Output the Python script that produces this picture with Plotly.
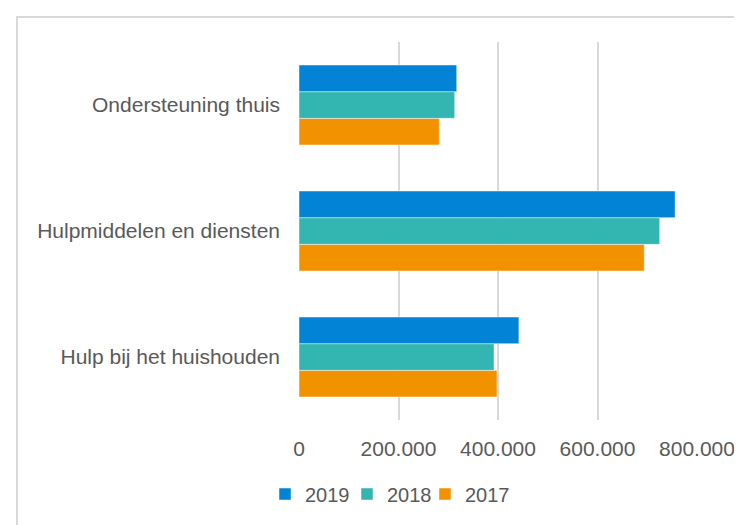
import plotly.graph_objects as go

categories = ["Hulp bij het huishouden", "Hulpmiddelen en diensten", "Ondersteuning thuis"]
series_names = ["2017", "2018", "2019"]
values_2017 = [398000, 694000, 282000]
values_2018 = [392000, 725000, 313000]
values_2019 = [442000, 756000, 317000]
colors = {"2019": "#0283D5", "2018": "#33B5B2", "2017": "#F39200"}
tick_vals = [0, 200000, 400000, 600000, 800000]
tick_text = ["0", "200.000", "400.000", "600.000", "800.000"]

data = {"2017": values_2017, "2018": values_2018, "2019": values_2019}

# page body has an 8px margin, so the figure is sized to fit the 742x525 window
OFF = 8
W, H = 742 - OFF, 525 - OFF
L, T = 299 - OFF, 42 - OFF
R = W - (697 - OFF)
B = H - (420 - OFF)
PW, PH = W - L - R, H - T - B

font_color = "#595959"
legend_ids = {"2019": "legend", "2018": "legend2", "2017": "legend3"}
legend_left_px = {"2019": 265, "2018": 347, "2017": 425}

fig = go.Figure()
for name in series_names:
    fig.add_trace(go.Bar(
        y=categories, x=data[name], name=name, orientation="h",
        legend=legend_ids[name],
        marker=dict(color=colors[name], line=dict(color="rgba(255,255,255,0.6)", width=0.8)),
    ))

legend_common = dict(orientation="h", yanchor="middle", y=(420 - 494) / PH, xanchor="left",
                     font=dict(size=20, color=font_color), bgcolor="rgba(0,0,0,0)")
layout_legends = {}
for name, lid in legend_ids.items():
    layout_legends[lid] = dict(legend_common, x=(legend_left_px[name] - 299) / PW)

fig.update_layout(
    width=W, height=H,
    margin=dict(l=L, r=R, t=T, b=B, pad=0, autoexpand=False),
    paper_bgcolor="white", plot_bgcolor="white",
    barmode="group", bargap=0.365, bargroupgap=0,
    font=dict(family="Liberation Sans, Arial, sans-serif", size=21, color=font_color),
    showlegend=True,
    xaxis=dict(range=[0, 800000], tickvals=tick_vals, ticktext=tick_text,
               showgrid=True, gridcolor="#D9D9D9", gridwidth=2, zeroline=False,
               showline=False, ticks="", ticklabelstandoff=14, fixedrange=True),
    yaxis=dict(showgrid=False, zeroline=False, showline=False, ticks="",
               ticklabelstandoff=18, fixedrange=True),
    **layout_legends,
)

x0 = (17 - OFF - L) / PW
y1 = (H - B - (17 - OFF)) / PH
fig.add_shape(type="rect", xref="paper", yref="paper", x0=x0, x1=3, y0=-2, y1=y1,
              line=dict(color="#D9D9D9", width=2), fillcolor="rgba(0,0,0,0)", layer="below")

fig.write_html("out.html")
